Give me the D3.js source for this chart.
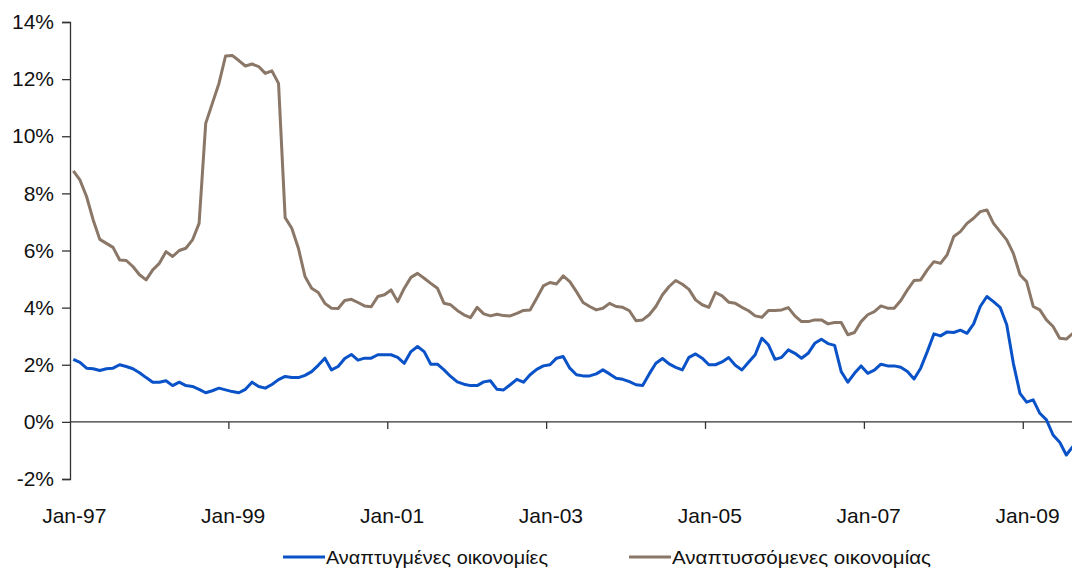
<!DOCTYPE html>
<html>
<head>
<meta charset="utf-8">
<script src="https://cdn.jsdelivr.net/npm/d3@7"></script>
<style>
  html, body { margin: 0; padding: 0; background: #fff; }
  svg { display: block; font-family: "Liberation Sans", Arial, sans-serif; }
</style>
</head>
<body>
<svg id="chart" width="1072" height="569"></svg>
<script>
// ---- Data (monthly, Jan-1997 .. Aug-2009) ----
const startYear = 1997;
const seriesNames = ["Αναπτυγμένες οικονομίες", "Αναπτυσσόμενες οικονομίας"];
const advanced = [
  2.19,2.08,1.88,1.86,1.80,1.86,1.88,2.00,1.94,1.86,1.72,1.55,
  1.39,1.39,1.44,1.27,1.39,1.27,1.24,1.14,1.02,1.09,1.18,1.12,
  1.06,1.02,1.14,1.39,1.24,1.18,1.31,1.48,1.59,1.55,1.55,1.63,
  1.76,1.98,2.23,1.82,1.94,2.22,2.36,2.16,2.23,2.23,2.35,2.35,
  2.35,2.26,2.05,2.46,2.64,2.46,2.02,2.02,1.82,1.59,1.40,1.32,
  1.27,1.27,1.40,1.44,1.14,1.12,1.30,1.49,1.39,1.65,1.84,1.96,
  2.00,2.23,2.29,1.88,1.65,1.61,1.61,1.68,1.82,1.68,1.53,1.49,
  1.41,1.30,1.27,1.68,2.05,2.22,2.03,1.91,1.82,2.26,2.38,2.23,
  2.00,2.00,2.10,2.25,1.98,1.82,2.09,2.35,2.93,2.70,2.19,2.26,
  2.52,2.40,2.23,2.40,2.75,2.89,2.74,2.68,1.76,1.39,1.70,1.96,
  1.70,1.81,2.02,1.96,1.96,1.91,1.76,1.50,1.88,2.46,3.08,3.01,
  3.15,3.13,3.21,3.10,3.43,4.04,4.39,4.21,4.01,3.40,2.05,1.00,
  0.69,0.77,0.30,0.07,-0.46,-0.71,-1.16,-0.86
];
const developing = [
  8.79,8.47,7.89,7.07,6.39,6.25,6.11,5.67,5.65,5.44,5.15,4.97,
  5.32,5.55,5.96,5.79,6.00,6.08,6.37,6.95,10.45,11.15,11.85,12.81,
  12.83,12.65,12.46,12.53,12.44,12.20,12.29,11.85,7.15,6.78,6.08,5.09,
  4.68,4.53,4.15,3.98,3.97,4.25,4.29,4.18,4.06,4.03,4.39,4.45,
  4.62,4.21,4.68,5.06,5.20,5.03,4.85,4.68,4.15,4.10,3.90,3.75,
  3.65,4.01,3.78,3.71,3.77,3.72,3.71,3.80,3.90,3.92,4.33,4.76,
  4.88,4.83,5.11,4.91,4.56,4.18,4.04,3.92,3.98,4.15,4.04,4.01,
  3.89,3.54,3.57,3.75,4.04,4.45,4.74,4.95,4.82,4.64,4.27,4.10,
  4.01,4.53,4.41,4.19,4.15,4.01,3.89,3.71,3.66,3.90,3.90,3.92,
  4.00,3.71,3.51,3.51,3.57,3.57,3.43,3.48,3.48,3.05,3.13,3.51,
  3.75,3.86,4.06,3.98,3.98,4.25,4.62,4.95,4.97,5.32,5.61,5.55,
  5.85,6.49,6.66,6.95,7.13,7.36,7.42,6.95,6.66,6.37,5.90,5.15,
  4.91,4.04,3.92,3.57,3.34,2.93,2.90,3.10
];
const yTicks = [-2, 0, 2, 4, 6, 8, 10, 12, 14];
const xTickLabels = ["Jan-97", "Jan-99", "Jan-01", "Jan-03", "Jan-05", "Jan-07", "Jan-09"];
const colors = ["#0a52c8", "#8a7767"];

// ---- Layout ----
const svg = d3.select("#chart");
const n = advanced.length;
const axisX = 70;
const step = 6.62;
const x = d3.scaleLinear().domain([-0.5, n - 0.5]).range([axisX, axisX + n * step]);
const y = d3.scaleLinear().domain([-2, 14]).range([479, 22]);

// Y axis
const yAxis = d3.axisLeft(y).tickValues(yTicks).tickSize(8).tickPadding(8)
  .tickFormat(d => d + "%");
const gy = svg.append("g").attr("transform", `translate(${axisX},0)`).call(yAxis);
gy.select(".domain").attr("stroke", "#333").attr("stroke-width", 1.3);
gy.selectAll(".tick line").attr("stroke", "#333").attr("stroke-width", 1.3);
gy.selectAll(".tick text").attr("font-size", 21).attr("fill", "#111")
  .attr("font-family", "Liberation Sans, Arial, sans-serif");

// X axis at 0%
const tickIdx = xTickLabels.map((_, k) => k * 24);
const gx = svg.append("g").attr("transform", `translate(0,${y(0)})`);
gx.append("line").attr("x1", axisX).attr("x2", 1072).attr("y1", 0).attr("y2", 0)
  .attr("stroke", "#333").attr("stroke-width", 1.3);
gx.selectAll("line.tk").data(tickIdx.slice(1)).enter().append("line").attr("class", "tk")
  .attr("x1", d => x(d - 0.5)).attr("x2", d => x(d - 0.5))
  .attr("y1", 0).attr("y2", 7).attr("stroke", "#333").attr("stroke-width", 1.3);
svg.append("g").selectAll("text").data(xTickLabels).enter().append("text")
  .attr("x", (d, k) => x(tickIdx[k]) + 1)
  .attr("y", 523)
  .attr("text-anchor", "middle")
  .attr("font-size", 21).attr("fill", "#111")
  .text(d => d);

// Lines
const line = d3.line().x((d, i) => x(i)).y(d => y(d)).curve(d3.curveLinear);
const plot = svg.append("g");
[advanced, developing].forEach((s, k) => {
  plot.append("path").datum(s).attr("d", line)
    .attr("fill", "none").attr("stroke", colors[k]).attr("stroke-width", 3)
    .attr("stroke-linejoin", "round");
});

// Legend
const legendX = [283, 629];
const legendLen = [222, 259];
const lg = svg.append("g");
seriesNames.forEach((name, k) => {
  lg.append("line").attr("x1", legendX[k]).attr("x2", legendX[k] + 42)
    .attr("y1", 557).attr("y2", 557).attr("stroke", colors[k]).attr("stroke-width", 3);
  lg.append("text").attr("x", legendX[k] + 43).attr("y", 564)
    .attr("font-size", 19).attr("fill", "#111")
    .attr("textLength", legendLen[k]).attr("lengthAdjust", "spacingAndGlyphs")
    .text(name);
});
</script>
</body>
</html>
